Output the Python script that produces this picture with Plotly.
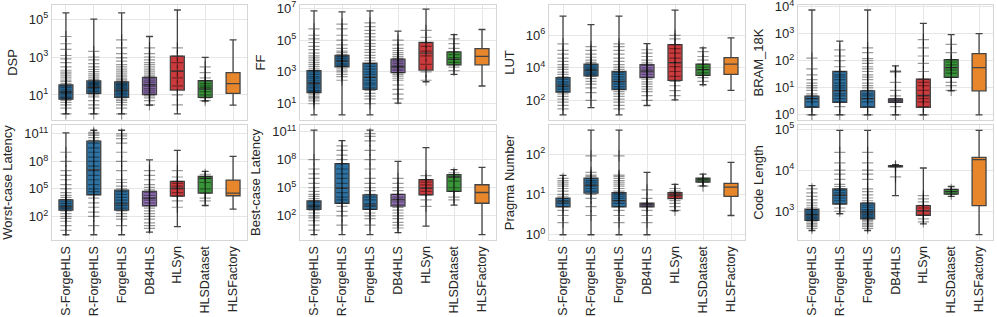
import plotly.graph_objects as go
from plotly.subplots import make_subplots

names = ["S-ForgeHLS", "R-ForgeHLS", "ForgeHLS", "DB4HLS", "HLSyn", "HLSDataset", "HLSFactory"]
box_colors = ["#2f71a0", "#2f71a0", "#2f71a0", "#9270b4", "#cb3a3c", "#3a953a", "#e8862c"]

# ---- DSP ----
dsp_lo = [1, 1, 1, 2.9, 1, 4.8, 2.9]
dsp_q1 = [6, 12, 7.5, 10.5, 18, 7.5, 12]
dsp_med = [14, 25, 18, 34, 180, 21, 40]
dsp_q3 = [34, 55, 48, 85, 1100, 56, 150]
dsp_hi = [2.1e5, 1e5, 2.1e5, 1.2e4, 3e5, 950, 8000]
dsp_ticks = [1, 3, 5]
dsp_pts = [
    [1, 2, 3, 4, 5, 6, 7, 8, 10, 12, 14, 16, 20, 25, 30, 40, 50, 60, 80, 100, 130, 160, 200, 300, 500, 800, 1200, 2500, 5000, 1.2e4],
    [1, 2, 3, 5, 8, 10, 12, 15, 18, 22, 26, 30, 35, 40, 45, 55, 65, 80, 100, 130, 170, 220, 300, 450, 700, 1000, 2000],
    [1, 2, 3, 4, 5, 6, 8, 10, 12, 15, 18, 22, 26, 30, 35, 40, 50, 60, 70, 90, 110, 140, 180, 230, 300, 400, 600, 900, 1500, 3000, 8000],
    [3, 5, 7, 9, 11, 14, 18, 22, 28, 35, 45, 55, 70, 90, 110, 140, 180, 230, 300, 400, 500, 700, 1000, 1500, 3000],
    [3, 10, 30, 80, 180, 500, 1100, 3000],
    [5, 7, 10, 15, 20, 25, 30, 40, 56, 80, 150, 300],
    [],
]

# ---- FF ----
ff_lo = [2, 2, 2, 11, 240, 700, 130]
ff_q1 = [50, 2100, 80, 900, 1300, 2800, 2800]
ff_med = [190, 4900, 460, 2100, 1.5e4, 6300, 9400]
ff_q3 = [1200, 1.07e4, 3500, 6300, 7e4, 1.8e4, 2.9e4]
ff_hi = [6.8e6, 5.8e6, 6.8e6, 3.6e5, 8.7e6, 2.2e5, 4.6e5]
ff_ticks = [1, 3, 5, 7]
ff_pts = [
    [10, 15, 20, 25, 30, 40, 50, 60, 70, 100, 130, 170, 220, 300, 400, 500, 700, 1000, 1300, 1700, 2200, 3000, 4000, 5500, 7500, 1e4, 1.5e4, 2.5e4, 4e4, 7e4, 1.2e5, 2e5, 5e5],
    [300, 500, 700, 1000, 1300, 1700, 2200, 2800, 3500, 4500, 5500, 7000, 9000, 1.2e4, 1.6e4, 2e4, 3e4, 5e4, 1e5, 2e5, 5e5, 1e6],
    [10, 20, 30, 45, 70, 100, 150, 200, 300, 450, 700, 1000, 1500, 2200, 3300, 5000, 7500, 1.1e4, 1.7e4, 2.5e4, 4e4, 6e4, 1e5, 1.6e5, 2.5e5, 4e5, 7e5, 1.2e6],
    [20, 40, 80, 150, 300, 400, 550, 700, 900, 1200, 1500, 2000, 2600, 3300, 4200, 5500, 7000, 9000, 1.2e4, 1.6e4, 2.2e4, 3e4, 5e4, 1e5],
    [300, 1000, 3000, 1e4, 2e4, 4e4, 7e4, 1.5e5, 4e5],
    [1200, 2000, 2800, 4000, 6000, 8000, 1.2e4, 1.8e4, 3e4, 6e4, 1.2e5],
    [],
]

# ---- LUT ----
lut_lo = [13, 36, 13, 49, 110, 920, 420]
lut_q1 = [320, 3200, 460, 2500, 1700, 3500, 4000]
lut_med = [790, 7100, 1500, 6400, 2.1e4, 7800, 1.7e4]
lut_q3 = [2500, 1.7e4, 6000, 1.6e4, 2.7e5, 1.7e4, 4.3e4]
lut_hi = [1.5e7, 4.5e6, 1.5e7, 3.1e5, 3.5e7, 1.7e5, 6.9e5]
lut_ticks = [2, 4, 6]
lut_pts = [
    [30, 50, 80, 120, 180, 250, 350, 500, 700, 1000, 1400, 2000, 2800, 4000, 5500, 8000, 1.1e4, 1.6e4, 2.5e4, 4e4, 7e4, 1.2e5, 3e5],
    [100, 300, 600, 1000, 1500, 2200, 3000, 4000, 5000, 6500, 8000, 1e4, 1.3e4, 1.7e4, 2.2e4, 3e4, 4.5e4, 7e4, 1.2e5, 2e5],
    [30, 50, 80, 120, 180, 250, 350, 500, 700, 1000, 1400, 2000, 2800, 4000, 5500, 8000, 1.1e4, 1.6e4, 2.5e4, 4e4, 7e4, 1.2e5, 2e5, 3e5],
    [100, 200, 350, 500, 700, 1000, 1400, 2000, 2800, 4000, 5500, 7500, 1e4, 1.4e4, 2e4, 3e4, 5e4, 8e4, 1.3e5],
    [200, 400, 800, 1500, 3000, 6000, 1.2e4, 2.1e4, 4e4, 8e4, 1.5e5, 2.7e5, 6e5, 1e6],
    [1500, 2500, 3500, 5000, 7800, 1.1e4, 1.7e4, 3e4, 5e4, 1e5],
    [],
]

# ---- BRAM_18K ----
bram_lo = [1, 1, 1, 1, 1, 7.7, 1]
bram_q1 = [1.9, 2.9, 1.9, 2.9, 1.9, 24.5, 7.7]
bram_med = [4, 7.7, 4, 3.4, 5.2, 56, 56]
bram_q3 = [4.9, 40, 7.7, 3.9, 21, 110, 182]
bram_hi = [7500, 530, 7500, 65, 2400, 920, 1000]
bram_ticks = [0, 1, 2, 3, 4]
bram_pts = [
    [1, 2, 3, 4, 5, 6, 8, 10, 12, 15, 20, 30, 50, 125],
    [1, 2, 3, 4, 5, 6, 8, 10, 12, 15, 20, 25, 30, 40, 60, 100, 150, 250],
    [1, 2, 3, 4, 5, 6, 8, 10, 12, 15, 20, 25, 30, 40, 50, 60, 80, 100, 120, 200, 300],
    [1, 2, 3, 4, 5, 8, 16, 38, 40, 42],
    [1, 2, 3, 4, 5, 8, 12, 16, 21, 40, 80, 150, 300, 600],
    [8, 12, 16, 24, 35, 45, 56, 70, 90, 110, 200, 400],
    [],
]

# ---- Worst-case Latency ----
wcl_lo = [1, 1, 1, 1.9, 7.8, 1550, 620]
wcl_q1 = [480, 2.3e4, 480, 1400, 1.6e4, 3.5e4, 1.8e4]
wcl_med = [1200, 1.26e7, 2300, 9700, 1.2e5, 1.4e6, 3.5e4]
wcl_q3 = [6500, 1.6e10, 7.4e4, 5.3e4, 6.6e5, 2.3e6, 9.1e5]
wcl_hi = [1.3e11, 2.5e11, 2.5e11, 1.5e8, 1.6e9, 8.2e6, 3.5e8]
wcl_ticks = [2, 5, 8, 11]
wcl_pts = [
    [3, 10, 30, 60, 100, 200, 400, 700, 1000, 1500, 2500, 4000, 7000, 1.2e4, 2e4, 4e4, 1e5, 3e5, 1e6, 3e6, 1e7, 1e8, 1e9],
    [10, 100, 300, 1000, 3000, 1e4, 2.3e4, 5e4, 1e5, 3e5, 1e6, 3e6, 1e7, 3e7, 1e8, 3e8, 1e9, 3e9, 1e10, 2e10, 4e10, 7e10, 1e11, 1.5e11],
    [10, 50, 100, 200, 400, 800, 1500, 3000, 6000, 1.2e4, 2.5e4, 5e4, 1e5, 2e5, 5e5, 1e6, 1e7, 1e8, 1e9, 1e10, 3e10, 6e10, 1e11],
    [5, 10, 20, 50, 100, 200, 400, 800, 1500, 3000, 6000, 1e4, 2e4, 4e4, 8e4, 1.5e5, 3e5, 1e6, 3e6, 1e7],
    [1000, 5000, 1.6e4, 4e4, 1e5, 2e5, 4e5, 6.6e5, 2e6, 1e7],
    [5000, 1e4, 3.5e4, 1e5, 5e5, 1.4e6, 2.3e6, 4e6],
    [],
]

# ---- Best-case Latency ----
bcl_lo = [1, 1, 1, 1.6, 8, 1400, 1]
bcl_q1 = [490, 2200, 490, 1100, 1.7e4, 4e4, 2200]
bcl_med = [1100, 9e4, 1400, 5000, 9e4, 1.4e6, 3.1e4]
bcl_q3 = [3900, 3.8e7, 1.7e4, 2e4, 7.2e5, 2.5e6, 2.1e5]
bcl_hi = [1.4e11, 1.1e10, 1.4e11, 6.7e7, 1.9e9, 8.7e6, 1.5e7]
bcl_ticks = [2, 5, 8, 11]
bcl_pts = [
    [3, 10, 30, 60, 100, 200, 400, 700, 1000, 1500, 2500, 4000, 7000, 1.2e4, 2e4, 4e4, 1e5, 3e5, 1e6, 3e6, 1e7, 1e8],
    [10, 100, 300, 1000, 2200, 5000, 1e4, 3e4, 9e4, 3e5, 1e6, 3e6, 1e7, 3.8e7, 1e8, 3e8, 1e9, 3e9],
    [10, 50, 100, 200, 500, 1000, 2000, 5000, 1e4, 2e4, 5e4, 1e5, 3e5, 1e6, 1e7, 1e8, 1e9, 1e10, 3e10, 6e10],
    [5, 10, 20, 50, 100, 200, 400, 800, 1500, 3000, 6000, 1e4, 2e4, 5e4, 1e5, 3e5, 1e6],
    [1000, 5000, 1.7e4, 4e4, 9e4, 2e5, 4e5, 7.2e5, 2e6],
    [5000, 1e4, 4e4, 1e5, 5e5, 1.4e6, 2.5e6, 4e6],
    [],
]

# ---- Pragma Number ----
prag_lo = [1, 1, 1, 1, 3.9, 16.3, 3]
prag_q1 = [4.9, 10.8, 4.9, 4.9, 7.9, 20.3, 8.9]
prag_med = [6.5, 16.7, 7, 5.5, 9.5, 23, 15.2]
prag_q3 = [8.1, 25.4, 11, 6.1, 11, 25.4, 18.7]
prag_hi = [29.6, 390, 390, 35, 17.7, 31.8, 62]
prag_ticks = [0, 1, 2]
prag_pts = [
    [2, 3, 4, 5, 6, 7, 8, 9, 10, 12, 14, 16, 18, 20, 22, 25],
    [3, 5, 8, 10, 12, 14, 16, 18, 20, 22, 25, 28, 30, 35, 90],
    [2, 3, 4, 5, 6, 7, 8, 9, 10, 11, 12, 14, 16, 18, 20, 22, 25, 28, 30, 90],
    [2, 3, 4, 5, 5.5, 6, 8, 13],
    [4, 5, 6, 7, 8, 9, 10, 11, 12, 14],
    [16, 20, 23, 25],
    [],
]

# ---- Code Length ----
code_lo = [340, 870, 340, 2400, 490, 2300, 270]
code_q1 = [600, 1500, 650, 1.2e4, 800, 2600, 1370]
code_med = [830, 2450, 960, 1.24e4, 1040, 3000, 1.8e4]
code_q3 = [1120, 3500, 1580, 1.29e4, 1370, 3400, 2.05e4]
code_hi = [4200, 9.3e4, 9.3e4, 1.36e4, 1.13e4, 4000, 9.3e4]
code_ticks = [3, 4, 5]
code_pts = [
    [380, 420, 460, 500, 550, 600, 650, 700, 760, 830, 900, 1000, 1100, 1250, 1400, 1600, 1900, 2300, 2800, 3500],
    [1000, 1200, 1500, 1800, 2100, 2450, 2800, 3200, 3500, 4000, 4500, 6000, 8000, 1e4, 1.5e4, 2.7e4],
    [380, 420, 460, 500, 550, 600, 650, 700, 760, 830, 900, 1000, 1100, 1250, 1400, 1600, 1800, 2100, 2500, 3000, 3500, 6000, 8000, 1e4, 1.5e4, 2.7e4],
    [6900, 1.2e4, 1.3e4],
    [550, 650, 800, 1000, 1200, 1400, 1700, 2000, 2400],
    [2600, 3000, 3400],
    [],
]

panels = [
    ("DSP", dsp_lo, dsp_q1, dsp_med, dsp_q3, dsp_hi, dsp_pts, [-0.32, 5.74], dsp_ticks),
    ("FF", ff_lo, ff_q1, ff_med, ff_q3, ff_hi, ff_pts, [-0.02, 7.2], ff_ticks),
    ("LUT", lut_lo, lut_q1, lut_med, lut_q3, lut_hi, lut_pts, [0.8, 7.86], lut_ticks),
    ("BRAM_18K", bram_lo, bram_q1, bram_med, bram_q3, bram_hi, bram_pts, [-0.19, 4.06], bram_ticks),
    ("Worst-case Latency", wcl_lo, wcl_q1, wcl_med, wcl_q3, wcl_hi, wcl_pts, [-0.57, 11.97], wcl_ticks),
    ("Best-case Latency", bcl_lo, bcl_q1, bcl_med, bcl_q3, bcl_hi, bcl_pts, [-0.58, 11.7], bcl_ticks),
    ("Pragma Number", prag_lo, prag_q1, prag_med, prag_q3, prag_hi, prag_pts, [-0.13, 2.72], prag_ticks),
    ("Code Length", code_lo, code_q1, code_med, code_q3, code_hi, code_pts, [2.30, 5.10], code_ticks),
]

fig = make_subplots(rows=2, cols=4)

W, H = 997, 317
ml, mr, mt, mb = 52, 4, 5, 77
pw = W - ml - mr
ph = H - mt - mb
col_px = [(52, 247), (300, 496), (549, 745), (798, 993)]
row_px = [(5, 120), (125, 240)]

font_family = "Liberation Sans, Arial, sans-serif"
edge = "#444444"
txt = "#262626"

for idx, (title, lo, q1, med, q3, hi, pts, yr, tks) in enumerate(panels):
    r = idx // 4 + 1
    c = idx % 4 + 1
    for i, name in enumerate(names):
        fig.add_trace(go.Box(
            x=[name], q1=[q1[i]], median=[med[i]], q3=[q3[i]],
            lowerfence=[lo[i]], upperfence=[hi[i]],
            fillcolor=box_colors[i], line=dict(color=edge, width=1.3),
            width=0.5, whiskerwidth=0.5, boxpoints=False,
            showlegend=False, hoverinfo="skip",
        ), row=r, col=c)
    for i, name in enumerate(names):
        if pts[i]:
            fig.add_trace(go.Scatter(
                x=[name] * len(pts[i]), y=pts[i], mode="markers",
                marker=dict(symbol="cross-thin", size=8,
                            line=dict(color="rgba(0,0,0,0.4)", width=1.2)),
                showlegend=False, hoverinfo="skip",
            ), row=r, col=c)

    x0, x1 = col_px[c - 1]
    y0, y1 = row_px[r - 1]
    xd = [(x0 - ml) / pw, (x1 - ml) / pw]
    yd = [(H - mb - y1) / ph, (H - mb - y0) / ph]
    fig.update_xaxes(
        domain=xd, type="category", categoryorder="array", categoryarray=names,
        range=[-0.5, 6.5], showgrid=True, gridcolor="#e6e6e6", gridwidth=1,
        showline=True, linecolor="#d6d6d6", linewidth=1.3, mirror=True,
        ticks="", showticklabels=(r == 2), tickangle=-90, automargin=False,
        tickfont=dict(family=font_family, size=12.5, color=txt),
        row=r, col=c,
    )
    fig.update_yaxes(
        domain=yd, type="log", range=yr,
        tickmode="array", tickvals=[10 ** e for e in tks],
        ticktext=[f"10<sup>{e}</sup>" for e in tks],
        ticklabeloverflow="allow",
        showgrid=True, gridcolor="#e6e6e6", gridwidth=1,
        showline=True, linecolor="#d6d6d6", linewidth=1.3, mirror=True,
        ticks="", zeroline=False, automargin=False,
        tickfont=dict(family=font_family, size=13, color=txt),
        title=dict(text=title, font=dict(family=font_family, size=13, color=txt), standoff=8),
        row=r, col=c,
    )

fig.update_layout(
    width=W, height=H,
    margin=dict(l=ml, r=mr, t=mt, b=mb),
    paper_bgcolor="white", plot_bgcolor="white",
    font=dict(family=font_family, size=13, color=txt),
)

fig.write_html("out.html", config={"displayModeBar": False},
               post_script="document.body.style.margin='0';document.body.style.overflow='hidden';")
